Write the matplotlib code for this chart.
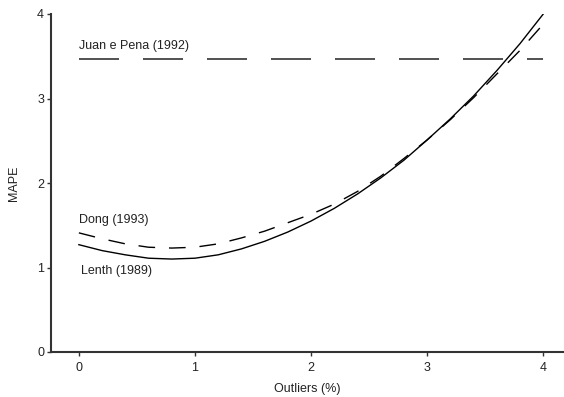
import matplotlib
matplotlib.use("Agg")
import matplotlib.pyplot as plt

plt.rcParams['font.family'] = ['Liberation Sans', 'DejaVu Sans']

outliers = [0, 0.2, 0.4, 0.6, 0.8, 1.0, 1.2, 1.4, 1.6, 1.8, 2.0,
            2.2, 2.4, 2.6, 2.8, 3.0, 3.2, 3.4, 3.6, 3.8, 4.0]
lenth = [1.27, 1.20, 1.15, 1.11, 1.10, 1.11, 1.15, 1.22, 1.31, 1.42, 1.55,
         1.70, 1.87, 2.06, 2.27, 2.51, 2.76, 3.03, 3.33, 3.65, 4.00]
dong = [1.41, 1.34, 1.28, 1.24, 1.23, 1.24, 1.28, 1.35, 1.43, 1.53, 1.63,
        1.75, 1.90, 2.08, 2.29, 2.51, 2.75, 3.01, 3.29, 3.57, 3.88]
juan_x = [0, 4]
juan = [3.47, 3.47]
xticks = [0, 1, 2, 3, 4]
yticks = [0, 1, 2, 3, 4]

fig = plt.figure(figsize=(5.64, 3.97), dpi=100)
ax = fig.add_axes([51/564, 1-352/397, (563-51)/564, (352-14)/397])

ax.plot(outliers, lenth, color='black', lw=1.0)
ax.plot(outliers, dong, color='black', lw=1.0, dashes=(12, 10))
ax.plot(juan_x, juan, color='#333333', lw=1.2, dashes=(24, 14.4))

ax.text(0, 3.62, 'Juan e Pena (1992)', fontsize=9, va='center', ha='left', color='#222222')
ax.text(0, 1.56, 'Dong (1993)', fontsize=9, va='center', ha='left', color='#222222')
ax.text(0.02, 0.96, 'Lenth (1989)', fontsize=9, va='center', ha='left', color='#222222')

ax.set_xlim(-0.24, 4.17)
ax.set_ylim(0, 4)
ax.set_xticks(xticks)
ax.set_yticks(yticks)
ax.tick_params(length=3, width=1, colors='#333333', labelsize=9, labelcolor='#222222')
ax.tick_params(axis='x', pad=4)
ax.tick_params(axis='y', pad=2)
for s in ['top', 'right']:
    ax.spines[s].set_visible(False)
for s in ['left', 'bottom']:
    ax.spines[s].set_color('#333333')
    ax.spines[s].set_linewidth(1.5)

ax.set_xlabel('Outliers (%)', fontsize=9, color='#222222', labelpad=7)
ax.set_ylabel('MAPE', fontsize=9, color='#222222', labelpad=12)

fig.savefig('out.png', dpi=100)
